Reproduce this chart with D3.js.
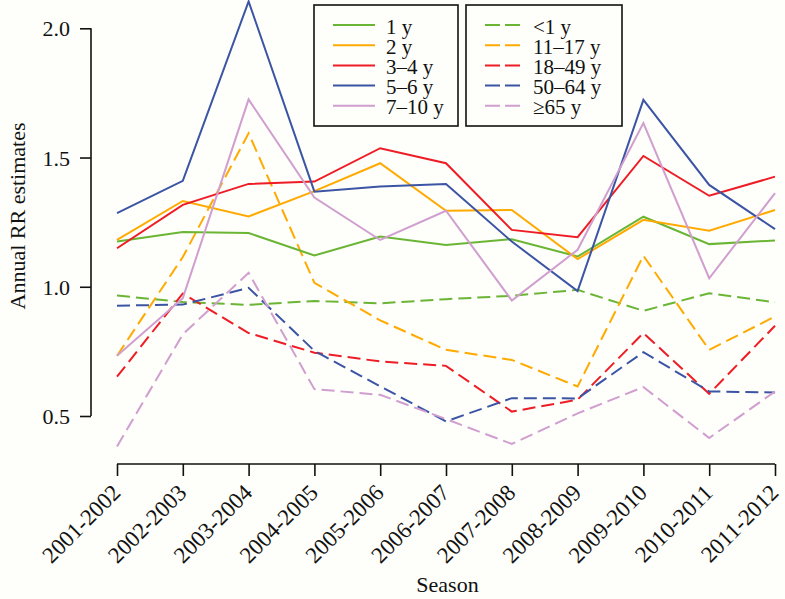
<!DOCTYPE html>
<html>
<head>
<meta charset="utf-8">
<script src="https://cdn.jsdelivr.net/npm/d3@7"></script>
<style>
  html, body { margin: 0; padding: 0; background: #fefefa; }
  svg { display: block; }
  svg text { font-family: "Liberation Serif", "Tinos", "Times New Roman", "DejaVu Serif", serif !important; fill: #111; }
</style>
</head>
<body>
<svg id="chart" width="785" height="599"></svg>
<script>
// ---- data ----
const seasons = ["2001-2002","2002-2003","2003-2004","2004-2005","2005-2006","2006-2007",
                 "2007-2008","2008-2009","2009-2010","2010-2011","2011-2012"];
const yTicks = [0.5, 1.0, 1.5, 2.0];

const age1y    = [1.175, 1.212, 1.208, 1.121, 1.194, 1.162, 1.184, 1.117, 1.271, 1.165, 1.179];
const age2y    = [1.181, 1.332, 1.272, 1.370, 1.478, 1.294, 1.297, 1.107, 1.259, 1.217, 1.297];
const age3to4  = [1.149, 1.317, 1.398, 1.407, 1.536, 1.478, 1.220, 1.192, 1.506, 1.352, 1.426];
const age5to6  = [1.285, 1.410, 2.104, 1.368, 1.388, 1.398, 1.175, 0.983, 1.723, 1.394, 1.223];
const age7to10 = [0.733, 0.956, 1.725, 1.345, 1.181, 1.294, 0.947, 1.143, 1.633, 1.033, 1.362];

const ageLt1   = [0.966, 0.941, 0.930, 0.945, 0.936, 0.952, 0.965, 0.988, 0.907, 0.975, 0.940];
const age11to17= [0.733, 1.115, 1.594, 1.015, 0.870, 0.756, 0.717, 0.614, 1.120, 0.756, 0.885];
const age18to49= [0.652, 0.974, 0.821, 0.745, 0.711, 0.694, 0.517, 0.563, 0.821, 0.586, 0.849];
const age50to64= [0.927, 0.931, 0.996, 0.752, 0.615, 0.479, 0.569, 0.568, 0.747, 0.595, 0.591];
const age65plus= [0.382, 0.816, 1.054, 0.604, 0.582, 0.488, 0.392, 0.510, 0.612, 0.415, 0.595];

const seriesColors = ["#6bb535", "#ffaa00", "#ee1c25", "#3b54a4", "#d09ecf"];
const solidLabels  = ["1 y", "2 y", "3\u20134 y", "5\u20136 y", "7\u201310 y"];
const dashedLabels = ["<1 y", "11\u201317 y", "18\u201349 y", "50\u201364 y", "\u226565 y"];
const solidSeries  = [age1y, age2y, age3to4, age5to6, age7to10];
const dashedSeries = [ageLt1, age11to17, age18to49, age50to64, age65plus];

// ---- chart ----
const FONT = "'Liberation Serif', 'Tinos', 'Times New Roman', 'DejaVu Serif', serif";
const svg = d3.select("#chart");
const x = d3.scalePoint().domain(seasons).range([117, 775]);
const y = d3.scaleLinear().domain([0.5, 2.0]).range([416, 28.3]);
const DASH = "13,6";

const line = d3.line().x((d, i) => x(seasons[i])).y(d => y(d));

// dashed series drawn first, then solid
dashedSeries.forEach((s, k) => {
  svg.append("path").datum(s).attr("d", line)
    .attr("fill", "none").attr("stroke", seriesColors[k])
    .attr("stroke-width", 2).attr("stroke-dasharray", DASH);
});
solidSeries.forEach((s, k) => {
  svg.append("path").datum(s).attr("d", line)
    .attr("fill", "none").attr("stroke", seriesColors[k])
    .attr("stroke-width", 2);
});

// y axis
const yAxis = svg.append("g").attr("transform", "translate(91,0)")
  .call(d3.axisLeft(y).tickValues(yTicks).tickFormat(d3.format(".1f")).tickSize(11).tickPadding(10));
yAxis.attr("font-family", FONT);
yAxis.select(".domain").attr("stroke", "#111").attr("stroke-width", 1.6)
  .attr("d", `M0,${y(0.5)}V${y(2.0)}`);
yAxis.selectAll(".tick line").attr("stroke", "#111").attr("stroke-width", 1.6);
yAxis.selectAll(".tick text").attr("font-family", FONT)
  .attr("font-size", 22).attr("fill", "#111").attr("dy", "0.34em");

// x axis
const xAxis = svg.append("g").attr("transform", "translate(0,464)")
  .call(d3.axisBottom(x).tickSize(12).tickFormat(""));
xAxis.select(".domain").attr("stroke", "#111").attr("stroke-width", 1.6)
  .attr("d", `M${x(seasons[0])},0H${x(seasons[seasons.length - 1])}`);
xAxis.selectAll(".tick line").attr("stroke", "#111").attr("stroke-width", 1.6);

svg.append("g").selectAll("text").data(seasons).join("text")
  .attr("transform", d => `translate(${x(d) + 5},${494}) rotate(-45)`)
  .attr("text-anchor", "end")
  .attr("font-family", FONT)
  .attr("font-size", 23)
  .text(d => d);

// axis titles
svg.append("text").attr("x", 447.5).attr("y", 592)
  .attr("text-anchor", "middle").attr("font-family", FONT).attr("font-size", 22).text("Season");
svg.append("text").attr("transform", "translate(25,216) rotate(-90)")
  .attr("text-anchor", "middle").attr("font-family", FONT).attr("font-size", 22).text("Annual RR estimates");

// legends
function legend(x0, x1, lineX0, lineX1, textX, labels, dashed) {
  const g = svg.append("g");
  g.append("rect").attr("x", x0).attr("y", 5).attr("width", x1 - x0).attr("height", 121)
    .attr("fill", "#fefefa").attr("stroke", "#111").attr("stroke-width", 1.6);
  labels.forEach((lab, i) => {
    const ly = 25 + i * 20.2;
    g.append("line").attr("x1", lineX0).attr("x2", lineX1).attr("y1", ly).attr("y2", ly)
      .attr("stroke", seriesColors[i]).attr("stroke-width", 2)
      .attr("stroke-dasharray", dashed ? "15,5" : null);
    g.append("text").attr("x", textX).attr("y", ly + 8.5)
      .attr("font-family", FONT).attr("font-size", 21).text(lab);
  });
}
legend(314, 458, 333, 375, 386, solidLabels, false);
legend(466, 622, 485, 520, 533, dashedLabels, true);
</script>
</body>
</html>
